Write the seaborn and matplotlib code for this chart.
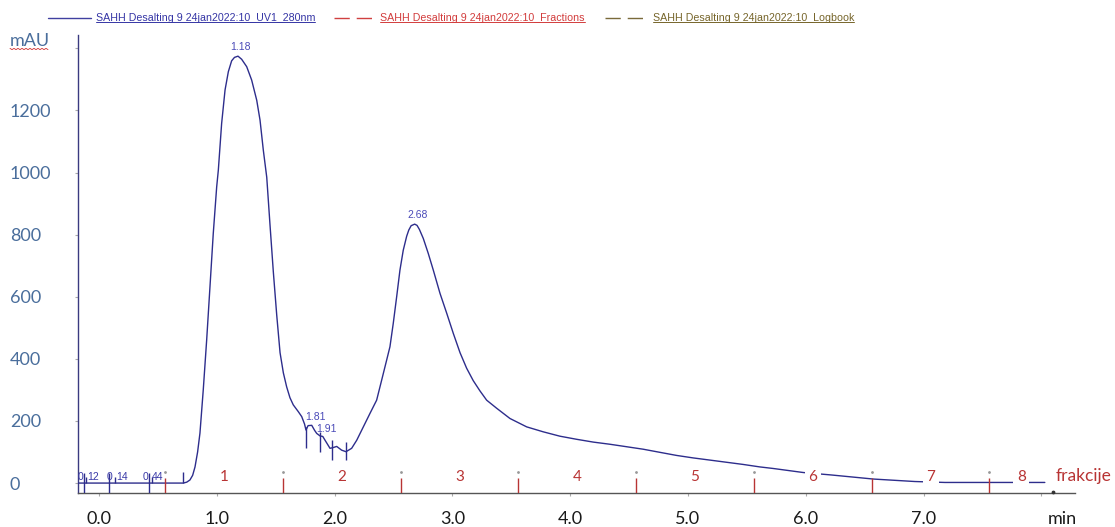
import numpy as np
import matplotlib
matplotlib.use('Agg')
import matplotlib.pyplot as plt
import seaborn as sns
from matplotlib.lines import Line2D

# UV 280 nm trace
time_min = [-0.178, 0.716, 0.745, 0.772, 0.795, 0.815, 0.837, 0.857, 0.885, 0.914,
            0.942, 0.970, 0.999, 1.013, 1.041, 1.070, 1.098, 1.126, 1.150, 1.18,
            1.211, 1.254, 1.296, 1.339, 1.367, 1.395, 1.424, 1.452, 1.480, 1.509,
            1.537, 1.565, 1.593, 1.621, 1.649, 1.692, 1.721, 1.745, 1.757, 1.775,
            1.806, 1.830, 1.848, 1.876, 1.900, 1.919, 1.961, 1.985, 2.018, 2.060,
            2.097, 2.145, 2.188, 2.244, 2.300, 2.357, 2.400, 2.442, 2.470, 2.498,
            2.527, 2.555, 2.583, 2.612, 2.630, 2.650, 2.68, 2.700, 2.720, 2.753,
            2.795, 2.838, 2.895, 2.952, 3.008, 3.065, 3.121, 3.177, 3.234, 3.291,
            3.376, 3.489, 3.631, 3.772, 3.913, 4.055, 4.196, 4.338, 4.480, 4.621,
            4.762, 4.904, 5.045, 5.187, 5.328, 5.469, 5.611, 5.724, 5.979, 6.220,
            6.573, 6.927, 7.182, 7.677, 8.03]
uv_mau = [0, 0, 3, 10, 25, 52, 100, 161, 300, 461,
          632, 804, 954, 1008, 1158, 1266, 1325, 1360, 1371, 1375,
          1365, 1341, 1298, 1233, 1169, 1072, 985, 830, 680, 540,
          420, 355, 310, 275, 252, 230, 214, 190, 171, 185,
          186, 170, 160, 152, 150, 138, 112, 114, 118, 106,
          101, 112, 138, 181, 224, 267, 332, 396, 439, 514,
          600, 686, 750, 795, 815, 829, 834, 830, 817, 788,
          740, 686, 611, 547, 482, 420, 370, 330, 297, 267,
          241, 208, 181, 165, 151, 141, 132, 125, 117, 109,
          99, 89, 81, 74, 67, 60, 52, 47, 34, 26,
          13, 5, 2, 2, 2]

# peak labels
peak_times = [1.18, 1.81, 1.91, 2.68]
peak_labels = ['1.18', '1.81', '1.91', '2.68']

# peak cut marks in the valley
cut_times = [1.757, 1.876, 1.98, 2.097]
cut_top = [180, 164, 138, 133]
cut_bottom = [113, 100, 74, 74]

# logbook marks near injection
log_times = [-0.127, -0.110, 0.085, 0.136, 0.424, 0.450, 0.713]
log_top = [32, 20, 32, 20, 32, 20, 35]
log_bottom = [-32, 0, -32, 0, -32, 0, 0]
log_text_x = [-0.157, -0.05, 0.085, 0.195, 0.395, 0.50]
log_text = ['0', '12', '0', '14', '0', '44']

# fractions
frac_edges = [0.56, 1.56, 2.56, 3.56, 4.56, 5.56, 6.56, 7.56]
frac_end = 8.10
frac_labels = ['1', '2', '3', '4', '5', '6', '7', '8']

x_ticks = [0, 1, 2, 3, 4, 5, 6, 7, 8]
x_ticklabels = ['0.0', '1.0', '2.0', '3.0', '4.0', '5.0', '6.0', '7.0', '']
y_ticks = [0, 200, 400, 600, 800, 1000, 1200, 1400]
y_ticklabels = ['0', '200', '400', '600', '800', '1000', '1200', '']

legend_names = ['SAHH Desalting 9 24jan2022:10_UV1_280nm',
                'SAHH Desalting 9 24jan2022:10_Fractions',
                'SAHH Desalting 9 24jan2022:10_Logbook']

sns.set_style('white')
plt.rcParams['font.family'] = ['Liberation Sans', 'DejaVu Sans']

line_col = '#2d2d8c'
frac_col = '#b83434'
tick_blue = '#4a6e9c'

fig = plt.figure(figsize=(11.15, 5.27), dpi=100)
ax = fig.add_axes([0.070, 0.0645, 0.894, 0.869])

sns.lineplot(x=time_min, y=uv_mau, ax=ax, color=line_col, linewidth=1.0,
             sort=False, estimator=None, zorder=3)

# peak labels just above the curve
for t, lab in zip(peak_times, peak_labels):
    yv = np.interp(t, time_min, uv_mau)
    ax.annotate(lab, xy=(t, yv), xytext=(2, 3), textcoords='offset points',
                ha='center', va='bottom', fontsize=7.5, color='#4a4ab8', zorder=5)

ax.vlines(cut_times, cut_bottom, cut_top, color=line_col, linewidth=1.0, zorder=4)
ax.vlines(log_times, log_bottom, log_top, color=line_col, linewidth=1.0, zorder=4)
for x, s in zip(log_text_x, log_text):
    ax.text(x, 3, s, ha='center', va='bottom', fontsize=7.5, color='#3a3aa8', zorder=5)

# fraction marks
ax.vlines(frac_edges, -32, 16, color=frac_col, linewidth=1.0, zorder=4)
ax.scatter(frac_edges, [37] * len(frac_edges), s=1, color='#999999', zorder=4)
ax.scatter([frac_end], [-30], s=3, color='#333333', zorder=4, clip_on=False)
mids = [(a + b) / 2 for a, b in zip(frac_edges, frac_edges[1:] + [frac_end])]
for x, s in zip(mids, frac_labels):
    ax.text(x, 18, s, ha='center', va='center', fontsize=11, color=frac_col,
            family=['Lato', 'DejaVu Sans'], zorder=6,
            bbox=dict(facecolor='white', edgecolor='none', pad=2.5))
ax.text(8.12, 22, 'frakcije', ha='left', va='center', fontsize=12.5, color=frac_col,
        family=['Lato', 'DejaVu Sans'], clip_on=False)

ax.set_xlim(-0.178, 8.285)
ax.set_ylim(-32, 1443)
ax.set_xticks(x_ticks)
ax.set_xticklabels(x_ticklabels, fontsize=13, color='#1a1a1a', family=['Lato', 'DejaVu Sans'])
ax.set_yticks(y_ticks)
ax.set_yticklabels(y_ticklabels, fontsize=13, color=tick_blue, family=['Lato', 'DejaVu Sans'])
ax.tick_params(axis='x', length=2, pad=11, color='#aaaaaa', bottom=True)
ax.tick_params(axis='y', length=2, pad=47, color='#aaaaaa', left=True)
for lbl in ax.get_yticklabels():
    lbl.set_horizontalalignment('left')
ax.set_xlabel('')
ax.set_ylabel('')

for side in ['top', 'right']:
    ax.spines[side].set_visible(False)
ax.spines['left'].set_color('#3a3a80')
ax.spines['bottom'].set_color('#555555')
ax.spines['left'].set_linewidth(1.0)
ax.spines['bottom'].set_linewidth(1.0)

ax.annotate('min', xy=(8.175, 0), xycoords=('data', 'axes fraction'),
            xytext=(0, -13), textcoords='offset points', ha='center', va='top',
            fontsize=13, color='#1a1a1a', family=['Lato', 'DejaVu Sans'],
            annotation_clip=False)

# mAU unit label with spell-check squiggle
fig.text(10 / 1115, 1 - 41 / 527, 'mAU', ha='left', va='center', fontsize=13,
         color=tick_blue, family=['Lato', 'DejaVu Sans'])
sq_x = np.linspace(10, 48, 20) / 1115
sq_y = (1 - 49 / 527) + np.array([0.0012, -0.0012] * 10)
fig.add_artist(Line2D(sq_x, sq_y, color='#d03030', linewidth=0.6, transform=fig.transFigure))

# legend row at the top
leg_y = 1 - 18 / 527
leg_lines = [(48, 91, '#4040a0', '-'), (334, 373, '#d04040', (0, (11, 5))),
             (605, 643, '#7a6a3a', (0, (11, 5)))]
leg_text_x = [96, 380, 653]
leg_text_col = ['#3535a5', '#d23c3c', '#76652a']
texts = []
for (x0, x1, c, ls), tx, tc, name in zip(leg_lines, leg_text_x, leg_text_col, legend_names):
    fig.add_artist(Line2D([x0 / 1115, x1 / 1115], [leg_y, leg_y], color=c,
                          linestyle=ls, linewidth=1.0, transform=fig.transFigure))
    texts.append(fig.text(tx / 1115, leg_y, name, ha='left', va='center',
                          fontsize=7.7, color=tc))

fig.canvas.draw()
renderer = fig.canvas.get_renderer()
inv = fig.transFigure.inverted()
for t in texts:
    bb = t.get_window_extent(renderer)
    (fx0, fy0), (fx1, _) = inv.transform([(bb.x0, bb.y0 + 1), (bb.x1, bb.y0 + 1)])
    fig.add_artist(Line2D([fx0, fx1], [fy0, fy0], color=t.get_color(),
                          linewidth=0.7, transform=fig.transFigure))

fig.savefig('out.png', dpi=100)
